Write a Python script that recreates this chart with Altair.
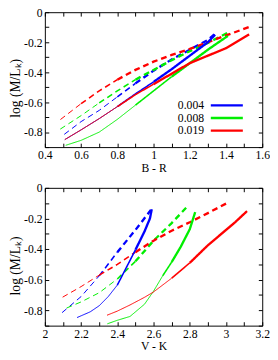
import altair as alt
import pandas as pd

metals = ["0.004", "0.008", "0.019"]
colors = ["#0000ff", "#00ee00", "#ff0000"]

# ---- top panel: B - R ----
br_x_blue_solid = [0.51, 0.6, 0.7, 0.8, 0.9, 1.0, 1.1, 1.2, 1.3, 1.34]
br_y_blue_solid = [-0.85, -0.785, -0.71, -0.63, -0.545, -0.465, -0.38, -0.29, -0.2, -0.15]
br_x_blue_dash = [0.507, 0.6, 0.7, 0.8, 0.9, 1.0, 1.1, 1.2, 1.3, 1.337]
br_y_blue_dash = [-0.815, -0.73, -0.655, -0.565, -0.475, -0.39, -0.315, -0.25, -0.185, -0.146]
br_x_green_solid = [0.515, 0.6, 0.7, 0.8, 0.9, 1.0, 1.1, 1.2, 1.3, 1.41]
br_y_green_solid = [-0.888, -0.855, -0.8, -0.715, -0.62, -0.525, -0.43, -0.34, -0.25, -0.158]
br_x_green_dash = [0.485, 0.6, 0.7, 0.8, 0.9, 1.0, 1.1, 1.2, 1.3, 1.42]
br_y_green_dash = [-0.78, -0.69, -0.605, -0.525, -0.45, -0.385, -0.32, -0.26, -0.205, -0.13]
br_x_red_solid = [0.51, 0.6, 0.7, 0.8, 0.9, 1.0, 1.1, 1.2, 1.3, 1.4, 1.528]
br_y_red_solid = [-0.85, -0.785, -0.71, -0.63, -0.55, -0.48, -0.41, -0.34, -0.29, -0.24, -0.148]
br_x_red_dash = [0.486, 0.6, 0.7, 0.8, 0.9, 1.0, 1.1, 1.2, 1.3, 1.4, 1.525]
br_y_red_dash = [-0.716, -0.61, -0.525, -0.45, -0.385, -0.33, -0.285, -0.245, -0.2, -0.155, -0.1]

# ---- bottom panel: V - K ----
vk_x_blue_solid = [2.178, 2.25, 2.3, 2.35, 2.4, 2.45, 2.5, 2.55, 2.58, 2.59]
vk_y_blue_solid = [-0.847, -0.81, -0.77, -0.71, -0.635, -0.52, -0.405, -0.285, -0.2, -0.14]
vk_x_blue_dash = [2.095, 2.2, 2.3, 2.4, 2.5, 2.585]
vk_y_blue_dash = [-0.815, -0.71, -0.575, -0.42, -0.275, -0.145]
vk_x_green_solid = [2.345, 2.4, 2.47, 2.55, 2.6, 2.65, 2.7, 2.75, 2.8, 2.83]
vk_y_green_solid = [-0.888, -0.865, -0.84, -0.76, -0.675, -0.575, -0.485, -0.385, -0.27, -0.158]
vk_x_green_dash = [2.12, 2.2, 2.3, 2.4, 2.5, 2.6, 2.7, 2.78]
vk_y_green_dash = [-0.785, -0.745, -0.685, -0.595, -0.48, -0.345, -0.23, -0.13]
vk_x_red_solid = [2.343, 2.4, 2.47, 2.55, 2.6, 2.7, 2.8, 2.9, 3.0, 3.05, 3.116]
vk_y_red_solid = [-0.832, -0.805, -0.765, -0.715, -0.68, -0.59, -0.49, -0.375, -0.275, -0.225, -0.152]
vk_x_red_dash = [2.098, 2.2, 2.3, 2.4, 2.5, 2.6, 2.7, 2.8, 2.9, 3.0]
vk_y_red_dash = [-0.714, -0.645, -0.57, -0.5, -0.42, -0.345, -0.28, -0.225, -0.165, -0.103]

br_curves = [
    ("0.004", "dashed", br_x_blue_dash, br_y_blue_dash),
    ("0.008", "dashed", br_x_green_dash, br_y_green_dash),
    ("0.019", "dashed", br_x_red_dash, br_y_red_dash),
    ("0.004", "solid", br_x_blue_solid, br_y_blue_solid),
    ("0.008", "solid", br_x_green_solid, br_y_green_solid),
    ("0.019", "solid", br_x_red_solid, br_y_red_solid),
]
vk_curves = [
    ("0.004", "dashed", vk_x_blue_dash, vk_y_blue_dash),
    ("0.008", "dashed", vk_x_green_dash, vk_y_green_dash),
    ("0.019", "dashed", vk_x_red_dash, vk_y_red_dash),
    ("0.004", "solid", vk_x_blue_solid, vk_y_blue_solid),
    ("0.008", "solid", vk_x_green_solid, vk_y_green_solid),
    ("0.019", "solid", vk_x_red_solid, vk_y_red_solid),
]

FONT = "Liberation Serif"


def wclass(y):
    if y < -0.6:
        return 1.0
    if y < -0.45:
        return 1.6
    return 2.4


def build(curves):
    rows = []
    for metal, style, xs, ys in curves:
        widths = [wclass((ys[k] + ys[k + 1]) / 2) for k in range(len(xs) - 1)]
        run = 0
        start = 0
        for k in range(len(widths) + 1):
            if k == len(widths) or (k > start and widths[k] != widths[start]):
                for j in range(start, k + 1):
                    rows.append({"x": xs[j], "y": ys[j], "metal": metal, "style": style,
                                 "w": widths[start], "seg": f"{metal}-{style}-{run}", "i": j})
                run += 1
                start = k
    return pd.DataFrame(rows)


W = 224
color_scale = alt.Scale(domain=metals, range=colors)


def panel(df, xdom, xmaj, xall, xtitle, height, title_y, with_legend):
    ymaj = [0, -0.2, -0.4, -0.6, -0.8]
    yall = [0, -0.1, -0.2, -0.3, -0.4, -0.5, -0.6, -0.7, -0.8, -0.9]

    def X(axis):
        return alt.X("x:Q", scale=alt.Scale(domain=xdom, nice=False, zero=False), axis=axis)

    def Y(axis):
        return alt.Y("y:Q", scale=alt.Scale(domain=[-0.9, 0], nice=False, zero=False), axis=axis)

    ax_x = alt.Axis(values=xmaj, labelExpr="'' + datum.value", ticks=False, domain=False,
                    grid=False, title=xtitle, labelPadding=3, titlePadding=2, orient="bottom",
                    labelFlush=False)
    ax_y = alt.Axis(values=ymaj, labelExpr="'' + datum.value", ticks=False, domain=False,
                    grid=False, title="log (M/L\u2096)", labelPadding=3, titlePadding=1,
                    orient="left", labelFlush=False, titleFontSize=14, titleY=title_y)

    lines = alt.Chart(df).mark_line(strokeCap="butt").encode(
        x=X(ax_x),
        y=Y(ax_y),
        color=alt.Color("metal:N", scale=color_scale, legend=None),
        strokeDash=alt.StrokeDash("style:N", scale=alt.Scale(domain=["solid", "dashed"],
                                                              range=[[1, 0], [6, 4]]), legend=None),
        size=alt.Size("w:Q", scale=None),
        detail="seg:N",
        order="i:Q",
    )

    def tick_axis(orient, offset, vals):
        return alt.Axis(orient=orient, offset=offset, values=vals, labels=False, domain=False,
                        grid=False, ticks=True, tickSize=4, tickColor="black", title=None)

    t1 = alt.Chart(df).mark_point(opacity=0).encode(
        x=X(tick_axis("top", -height, xall)), y=Y(tick_axis("right", -W, yall)))
    t2 = alt.Chart(df).mark_point(opacity=0).encode(
        x=X(tick_axis("bottom", -height, xall)), y=Y(tick_axis("left", -W, yall)))
    layers = [lines, t1, t2]

    if with_legend:
        leg_df = pd.DataFrame({"metal": metals})
        leg_y = alt.Y("metal:N", scale=alt.Scale(type="point", domain=metals, range=[96, 122],
                                                  padding=0), axis=None)
        leg_text = alt.Chart(leg_df).mark_text(align="right", baseline="middle", font=FONT,
                                               fontSize=12, color="black").encode(
            x=alt.value(164), y=leg_y, text="metal:N")
        leg_line = alt.Chart(leg_df).mark_rule(strokeWidth=2.5).encode(
            x=alt.value(171), x2=alt.value(204), y=leg_y,
            color=alt.Color("metal:N", scale=color_scale, legend=None))
        layers += [leg_text, leg_line]

    return alt.layer(*layers).resolve_axis(x="independent", y="independent").resolve_scale(
        y="independent").properties(width=W, height=height)


top = panel(build(br_curves), [0.4, 1.6], [0.4, 0.6, 0.8, 1, 1.2, 1.4, 1.6],
            [0.4, 0.5, 0.6, 0.7, 0.8, 0.9, 1.0, 1.1, 1.2, 1.3, 1.4, 1.5, 1.6],
            "B - R", 139, 78, True)
bottom = panel(build(vk_curves), [2.0, 3.2], [2, 2.2, 2.4, 2.6, 2.8, 3, 3.2],
               [2.0, 2.1, 2.2, 2.3, 2.4, 2.5, 2.6, 2.7, 2.8, 2.9, 3.0, 3.1, 3.2],
               "V - K", 142, 80, False)

chart = alt.vconcat(top, bottom, spacing=7).properties(
    padding={"left": 0, "top": -8, "right": 0, "bottom": 0}, background="white"
).configure_view(stroke="black", strokeWidth=1).configure_axis(
    labelFont=FONT, titleFont=FONT, labelFontSize=12, titleFontSize=12, labelColor="black",
    titleColor="black", titleFontWeight="normal"
)

chart.save("out.html", embed_options={"renderer": "svg", "actions": False})
